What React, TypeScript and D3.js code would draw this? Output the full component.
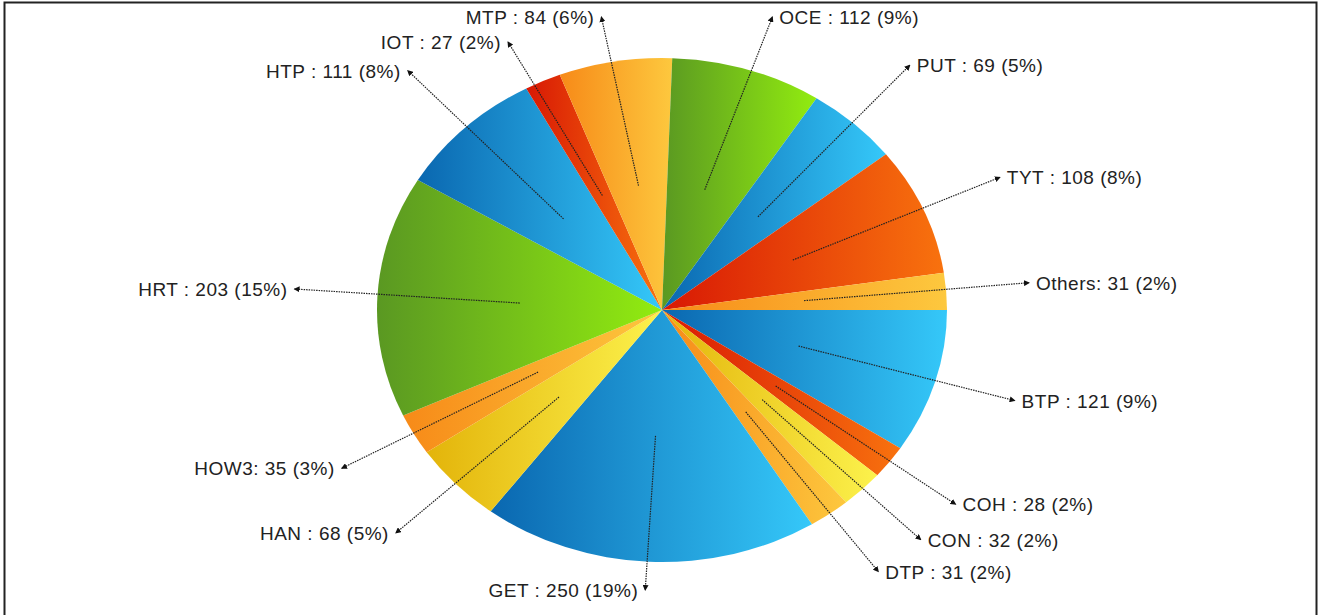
import React from "react";
import * as d3 from "d3";

const categories = ["BTP", "COH", "CON", "DTP", "GET", "HAN", "HOW3", "HRT", "HTP", "IOT", "MTP", "OCE", "PUT", "TYT", "Others"];
const values = [121, 28, 32, 31, 250, 68, 35, 203, 111, 27, 84, 112, 69, 108, 31];
const families = ["blue", "red", "yellow", "orange", "blue", "yellow", "orange", "green", "blue", "red", "orange", "green", "blue", "red", "orange"];

const palette: Record<string, [string, string]> = {
  blue: ["#0a67b0", "#35c8f9"],
  green: ["#5a9822", "#92ec10"],
  red: ["#d81804", "#f8720e"],
  orange: ["#f78a18", "#fdc83e"],
  yellow: ["#e3b40a", "#fcf24c"],
};

const W = 1320;
const H = 615;
const cx = 662;
const cy = 310;
const rx = 285;
const ry = 252;

export default function App() {
  const total = d3.sum(values);
  const pie = d3
    .pie<number>()
    .sort(null)
    .startAngle(Math.PI / 2)
    .endAngle(Math.PI / 2 + 2 * Math.PI);
  const arcs = pie(values);
  const arc = d3.arc<d3.PieArcDatum<number>>().innerRadius(0).outerRadius(rx);

  type Lbl = { i: number; x: number; y: number; raw: number; ix: number; iy: number; left: boolean };
  const labels: Lbl[] = arcs.map((a, i) => {
    const m = (a.startAngle + a.endAngle) / 2;
    const s = Math.sin(m);
    const c = -Math.cos(m);
    const x = cx + 368 * s;
    const raw = cy - 3 + 327 * c;
    const y = Math.max(17, Math.min(590, raw));
    return { i, x, y, raw, ix: cx + 0.5 * rx * s, iy: cy + 0.5 * ry * c, left: x < cx };
  });
  const gap = 25;
  [true, false].forEach((side) => {
    const grp = labels.filter((l) => l.left === side).sort((a, b) => a.raw - b.raw);
    for (let k = 1; k < grp.length; k++) {
      if (grp[k].y < grp[k - 1].y + gap) grp[k].y = grp[k - 1].y + gap;
    }
  });

  const fmt = (i: number) => {
    const n = categories[i];
    const sep = n.length > 3 ? ": " : " : ";
    return `${n}${sep}${values[i]} (${Math.round((values[i] / total) * 100)}%)`;
  };

  return (
    <svg width={W} height={H} style={{ position: "absolute", left: 0, top: 0, background: "#fff" }}>
      <defs>
        {arcs.map((a, i) => (
          <linearGradient key={i} id={`g${i}`} x1="0" y1="0" x2="1" y2="0">
            <stop offset="0" stopColor={palette[families[i]][0]} />
            <stop offset="1" stopColor={palette[families[i]][1]} />
          </linearGradient>
        ))}
        <marker id="arr" viewBox="0 0 6 6" refX="5" refY="3" markerWidth="6" markerHeight="6" orient="auto" markerUnits="userSpaceOnUse">
          <path d="M0,0 L6,3 L0,6 z" fill="#111" />
        </marker>
      </defs>
      <rect x={4.5} y={2.5} width={1312} height={640} fill="#fff" stroke="#222" strokeWidth={2} />
      <g transform={`translate(${cx},${cy}) scale(1,${ry / rx})`}>
        {arcs.map((a, i) => (
          <path key={i} d={arc(a) || ""} fill={`url(#g${i})`} />
        ))}
      </g>
      <g>
        {labels.map((l) => (
          <g key={l.i}>
            <line
              x1={l.ix}
              y1={l.iy}
              x2={l.x}
              y2={l.y}
              stroke="#222"
              strokeWidth={1.2}
              strokeDasharray="1.5 1"
              markerEnd="url(#arr)"
            />
            <text
              x={l.left ? l.x - 7 : l.x + 7}
              y={l.y + 7}
              textAnchor={l.left ? "end" : "start"}
              fontFamily="'Liberation Sans', Arial, sans-serif"
              fontSize={19}
              letterSpacing={0.5}
              fill="#222"
            >
              {fmt(l.i)}
            </text>
          </g>
        ))}
      </g>
    </svg>
  );
}
